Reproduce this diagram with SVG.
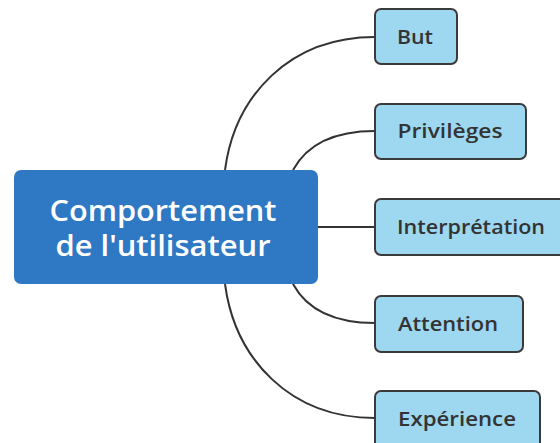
<svg xmlns="http://www.w3.org/2000/svg" width="560" height="443" viewBox="0 0 560 443">
<style>
.leaf rect{fill:#9dd7f0;stroke:#3a3a3a;stroke-width:2}
.leaf text{font-family:"Open Sans","DejaVu Sans",sans-serif;font-weight:600;font-size:19px;fill:#333;text-anchor:middle}
.main text{font-family:"Open Sans","DejaVu Sans",sans-serif;font-weight:600;font-size:28px;fill:#fff;text-anchor:middle}
.conn path{fill:none;stroke:#333;stroke-width:2}
</style>
<rect width="560" height="443" fill="#fff"/>
<g class="conn" id="connectors">
<path d="M225,170 C235,95 290,37 375,37"/>
<path d="M293,170 C305,148 330,131 375,131"/>
<path d="M318,227 L375,227"/>
<path d="M293,284 C305,306 330,323 375,323"/>
<path d="M225,284 C235,359 290,418 375,418"/>
</g>
<g class="main" id="node-main">
<rect x="14" y="170" width="304" height="114" rx="7" fill="#2f78c4"/>
<text x="163" y="221" textLength="227" lengthAdjust="spacingAndGlyphs">Comportement</text>
<text x="163" y="256" textLength="215" lengthAdjust="spacingAndGlyphs">de l'utilisateur</text>
</g>
<g class="leaf" id="node-but">
<rect x="375" y="9" width="82" height="55" rx="6"/>
<text x="415" y="44" textLength="36" lengthAdjust="spacingAndGlyphs">But</text>
</g>
<g class="leaf" id="node-privileges">
<rect x="375" y="104" width="151" height="55" rx="6"/>
<text x="450" y="138" textLength="105" lengthAdjust="spacingAndGlyphs">Privilèges</text>
</g>
<g class="leaf" id="node-interpretation">
<rect x="375" y="199" width="200" height="56" rx="6"/>
<text x="471" y="234" textLength="148" lengthAdjust="spacingAndGlyphs">Interprétation</text>
</g>
<g class="leaf" id="node-attention">
<rect x="375" y="296" width="148" height="56" rx="6"/>
<text x="448" y="331" textLength="100" lengthAdjust="spacingAndGlyphs">Attention</text>
</g>
<g class="leaf" id="node-experience">
<rect x="375" y="391" width="165" height="60" rx="6"/>
<text x="457" y="426" textLength="118" lengthAdjust="spacingAndGlyphs">Expérience</text>
</g>
</svg>
